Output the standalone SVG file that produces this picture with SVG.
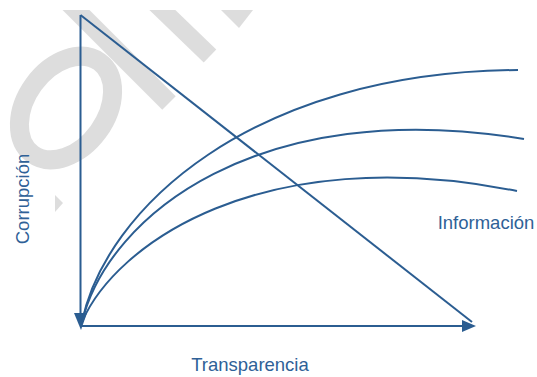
<svg xmlns="http://www.w3.org/2000/svg" width="537" height="377" viewBox="0 0 537 377">
<style>
.ax{stroke:#2b5d91;stroke-width:2;fill:none}
.cv{stroke:#2b5d91;stroke-width:2;fill:none}
.lbl{font-family:"Liberation Sans",Arial,sans-serif;font-size:18.5px;fill:#2f6197}
.wm{fill:none;stroke:#dddddd}
</style>
<defs>
<clipPath id="wmclip"><rect x="0" y="10" width="537" height="367"/></clipPath>
</defs>
<rect width="537" height="377" fill="#ffffff"/>
<g id="watermark" clip-path="url(#wmclip)">
<ellipse class="wm" cx="66" cy="108" rx="57" ry="40" stroke-width="19" transform="rotate(-54 66 108)"/>
<line class="wm" x1="66" y1="0" x2="169" y2="103" stroke-width="19"/>
<line class="wm" x1="152" y1="0" x2="210" y2="56" stroke-width="18"/>
<polygon points="221,10 253,10 239,28" fill="#dddddd"/>
<polygon points="55,195 63,203 55,212" fill="#dddddd"/>
</g>
<g id="connectors">
<line class="ax" x1="80.5" y1="15" x2="80.5" y2="316"/>
<polygon points="74,313 87,313 81,330" fill="#2b5d91"/>
<line class="ax" x1="81" y1="326" x2="464" y2="326"/>
<polygon points="462,320 462,332 476,326" fill="#2b5d91"/>
<line class="ax" x1="80.5" y1="15" x2="472" y2="322"/>
<path class="cv" d="M82,322 C105,210 250,72 518,70"/>
<path class="cv" d="M82,322 C108,215 260,95 524,139"/>
<path class="cv" d="M82,322 C115,245 260,140 517,191"/>
</g>
<g id="label-corrupcion"><text class="lbl" transform="translate(29,199) rotate(-90)" text-anchor="middle">Corrupción</text></g>
<g id="label-transparencia"><text class="lbl" x="250" y="371" text-anchor="middle">Transparencia</text></g>
<g id="label-informacion"><text class="lbl" x="486" y="229" text-anchor="middle">Información</text></g>
</svg>
